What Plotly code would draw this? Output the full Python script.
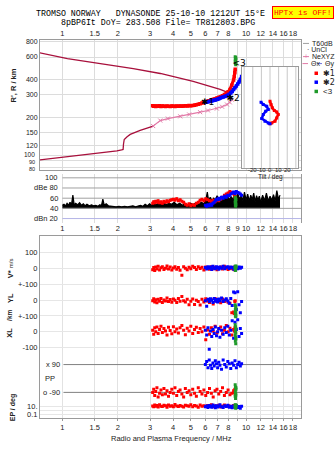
import numpy as np
import plotly.graph_objects as go

W, H = 335, 451
def px(x): return x / W
def py(y): return 1 - y / H

# ---------------- data ----------------
freq_ticks = [1, 1.5, 2, 3, 4, 5, 6, 7, 8, 9, 10, 12, 14, 16, 18]
freq_labels_edge = ['1', '1.5', '2', '3', '4', '5', '6', '7', '8', '', '10', '12', '14', '16', '18']
freq_labels_mid = ['1', '1.5', '2', '3', '4', '5', '6', '7', '8', '9', '10', '12', '14', '16', '18']
height_ticks = [80, 90, 100, 120, 150, 200, 300, 400, 600, 800]
height_labels = ['', '', '', '120', '150', '200', '300', '400', '600', '800']
tilt_ticks = [-30, -20, -10, 0, 10, 20, 30]
tilt_labels = ['', '-20', '-10', '0', '10', '20', '']
amp_ticks = [100, 80, 60, 40, 20]
amp_labels = ['100', 'dBe 80', '60', '40', 'dBn 20']

upper_f = [0.751, 1.065, 1.609, 2.43, 3.41, 5.15, 7.22, 8.19]
upper_h = [649, 582, 532, 486, 444, 384, 332, 309]
lower_f = [0.753, 1.0, 1.305, 1.6, 1.98, 2.10, 2.14, 2.15, 2.17, 2.25, 2.34, 2.65, 3.12]
lower_h = [91.6, 96, 100, 104, 108, 110, 111, 122, 133, 140, 146, 157, 170]
nexyz_f = [3.12, 3.41, 3.75, 4.38, 4.9, 5.62, 6.2, 6.93, 7.4, 7.87, 8.15, 8.37]
nexyz_h = [170, 188, 195, 203, 210, 219, 226, 234, 242, 252, 262, 275]

red_f = [3.10, 3.14, 3.18, 3.22, 3.27, 3.32, 3.38, 3.44, 3.50, 3.57, 3.64, 3.71, 3.78, 3.86,
         3.94, 4.02, 4.10, 4.19, 4.28, 4.37, 4.47, 4.57, 4.67, 4.78, 4.89, 5.00, 5.12, 5.24,
         5.36, 5.49, 5.62, 5.75, 5.89, 6.03, 6.17, 6.32, 6.47, 6.62, 6.78, 6.94, 7.10, 7.27,
         7.44, 7.62, 7.80, 7.98, 8.17, 8.36, 8.55, 8.62, 8.68, 8.72]
red_h = [246, 244, 245, 243, 245, 244, 246, 243, 245, 244, 243, 245, 244, 243, 245, 244, 243,
         245, 244, 245, 244, 245, 246, 245, 247, 246, 248, 249, 251, 253, 256, 259, 262, 265,
         268, 270, 273, 276, 279, 283, 287, 291, 296, 302, 309, 318, 332, 358, 395, 420, 450, 480]
red_amp = [50, 53, 51, 54, 52, 55, 51, 53, 50, 54, 52, 55, 53, 56, 57,
           58, 56, 59, 55, 57, 54, 52,
           48, 46, 49, 45, 47, 46, 50,
           52, 56, 58, 55, 59, 57, 55,
           54, 56, 53, 57, 55,
           58, 62, 66, 68, 70, 73, 71, 69, 67, 64, 62]
red_vstar = [-10, 5, -15, 8, -5, 12, -12, 3, 10, -8, 0, 15, -5, 8, -12, 2, 10, -6, 5, -14,
             -45, 9, 0, -10, 6, -3, 12, 4, -8, 10, -2, 6, -12, 8, 0, -6, 10, -4, 6, -10,
             3, 8, -5, 12, 0, -8, 5, -3, 6, -10, 4, -2]
red_yl = [-5, 8, -12, 2, -18, 5, -8, 10, -15, 0, -6, 12, -10, 3, -14, 6, -2, -16, 9, -8,
          22, -4, -12, 4, -30, -8, 6, -28, -2, -10, -32, 5, -12, 8, -6, -15, 2, -25, 10, -8,
          -3, -18, 6, -10, 0, -14, -20, -80, -75, -85, -10, -5]
red_xl = [10, -15, 25, 0, 30, -10, 15, 35, -5, 20, 5, -20, 28, 8, -12, 32, 0, 18, -8, 25,
          40, 10, -18, 22, 5, 35, -10, 15, 28, -5, 20, 0, 30, -50, 12, -15, 25, 5, 35, -8,
          18, 30, -12, 10, 40, 0, 22, -20, 15, 5, 25, 0]
red_pp = [-90, -70, -110, -85, -60, -120, -95, -75, -105, -65, -100, -80, -115, -90, -70,
          -95, -60, -110, -85, -75, -100, -120, -65, -90, -80, -105, -70, -95, -115, -60,
          -85, -100, -75, -110, -90, -65, -95, -120, -80, -70, -100, -85, -60, -110, -90,
          -75, -105, -95, -80, -90, -70, -100]
red_ep = [12, 8, 20, 10, 15, 7, 25, 11, 9, 18, 13, 6, 22, 10, 14, 8, 28, 12, 9, 16, 11, 7,
          19, 13, 10, 24, 8, 15, 12, 6, 20, 10, 14, 9, 17, 11, 26, 8, 13, 10, 18, 7, 12, 22,
          9, 15, 11, 6, 16, 10, 8, 12]

blue_f = [6.0, 6.1, 6.2, 6.3, 6.4, 6.5, 6.6, 6.7, 6.8, 6.9, 7.0, 7.1, 7.2, 7.35, 7.5, 7.65,
          7.8, 7.95, 8.1, 8.25, 8.4, 8.55, 8.7, 8.85, 9.0, 9.15, 9.3, 9.45]
blue_h = [263, 264, 265, 266, 268, 269, 271, 272, 274, 276, 278, 280, 283, 286, 289, 292,
          295, 299, 304, 311, 320, 332, 342, 353, 366, 380, 398, 420]
blue_amp = [46, 44, 47, 45, 48, 46, 50, 52, 55, 58, 57, 60, 58, 62, 60, 64, 62, 66, 65, 68,
            70, 72, 69, 73, 71, 70, 68, 66]
blue_vstar = [5, -5, 10, 0, 8, -8, 12, 2, -3, 10, 5, -6, 8, 0, 12, -4, 6, 10, -2, 8, 4, -6,
              10, 2, -4, 8, 0, 6]
blue_yl = [-5, -40, 5, -10, 8, -2, -15, 10, -8, 3, -12, 6, -4, 12, -10, 0, 8, -6, -20, 10,
           -35, 50, 45, -60, 52, -30, -80, -10]
blue_xl = [10, -20, 25, -110, 5, -30, 15, -10, 30, -25, 0, 20, -35, 10, -15, 25, -5, 35,
           -20, 10, 70, -40, 60, 15, 75, -30, 20, -10]
blue_pp = [90, 110, 70, 120, 85, 65, 100, 80, 115, 95, 70, 105, 85, 60, 120, 90, 75, 110,
           95, 65, 100, 85, 115, 70, 90, 105, 80, 95]
blue_ep = [8, 12, 5, 15, 9, 6, 20, 10, 4, 14, 7, 11, 25, 8, 5, 13, 9, 18, 6, 10, 4, 12, 8,
           16, 5, 9, 3, 11]

green_f = [8.72, 8.76, 8.80, 8.74, 8.78, 8.72, 8.76, 8.80, 8.74, 8.78]
green_h = [604, 595, 586, 577, 568, 559, 550, 541, 530, 520]
green_amp = [62, 60, 58, 56, 54, 52, 50, 48, 46, 44]
green_vstar = [12, -8, 15, -15, 5, 0, -12, 10, -5, 3]
green_yl = [-30, -40, -50, -60, -70, -78, -86, -94, -100, -106]
green_xl = [45, 32, 19, 6, -7, -20, -33, -46, -60, -75]
green_pp = [-40, -55, -70, -85, -100, -115, -130, -60, -95, -110]
green_ep = [25, 18, 14, 11, 8, 6, 4, 20, 9, 3]

tilt_red_deg = [0, 1.2, 2.7, 5.0, 7.8, 9.6, 7.8, 5.8, 2.0, 0]
tilt_red_h = [267, 252, 237, 226, 220, 210, 197, 186, 180, 177]
tilt_blue_deg = [-10.4, -7.8, -3.8, -2.0, -5.0, -7.8, -9.6, -5.8, -2.0, 0]
tilt_blue_h = [262, 252, 244, 230, 223, 210, 195, 186, 180, 177]

noise_f = [1.00, 1.02, 1.04, 1.06, 1.08, 1.10, 1.12, 1.14, 1.16, 1.18, 1.21, 1.24, 1.27, 1.30,
           1.33, 1.36, 1.40, 1.44, 1.48, 1.52, 1.56, 1.60, 1.63, 1.66, 1.69, 1.73, 1.78, 1.84,
           1.90, 1.96, 2.03, 2.10, 2.18, 2.26, 2.34, 2.42, 2.50, 2.58, 2.66, 2.74, 2.82, 2.90,
           2.98, 3.06, 3.15, 3.25, 3.35, 3.45, 3.56, 3.68, 3.80, 3.93, 4.06, 4.20, 4.35, 4.50,
           4.66, 4.82, 4.99, 5.16, 5.34, 5.52, 5.71, 5.90, 6.05, 6.15, 6.25, 6.38, 6.52, 6.66,
           6.80, 6.95, 7.10, 7.26, 7.42, 7.58, 7.75, 7.92, 8.10, 8.28, 8.46, 8.64, 8.82, 9.00,
           9.20, 9.40, 9.60, 9.80, 10.0, 10.2, 10.4, 10.6, 10.8, 11.0, 11.2, 11.4, 11.6, 11.8,
           12.0, 12.3, 12.6, 12.9, 13.2, 13.5, 13.8, 14.1, 14.4, 14.7, 15.0, 15.3]
noise_db = [46, 48, 45, 50, 46, 52, 47, 66, 46, 50, 47, 51, 46, 49, 45, 48, 45, 47, 45, 46,
            44, 47, 45, 58, 46, 49, 45, 44, 44, 43, 44, 43, 44, 43, 44, 45, 43, 44, 46, 44,
            48, 45, 49, 46, 50, 47, 51, 48, 52, 47, 50, 48, 52, 47, 50, 46, 49, 46, 50, 47,
            51, 48, 52, 49, 58, 72, 55, 62, 54, 60, 56, 65, 57, 62, 56, 63, 58, 64, 57, 63,
            58, 66, 60, 70, 58, 66, 55, 72, 56, 68, 54, 66, 57, 70, 53, 65, 56, 64, 52, 66,
            55, 70, 54, 64, 56, 67, 55, 75, 58, 66]
noise_floor = 41

RED, BLUE, GREEN = '#ff0000', '#0000ff', '#1f9a2a'
MAROON, PINK = '#a8103c', '#e27aa8'

# lower panel band mapping (stacked bands on one axis, units = -pixel rows)
def vstar_u(v): return -268 + 0.155 * np.asarray(v, float)
def yl_u(v): return -300 + 0.16 * np.asarray(v, float)
def xl_u(v): return -332 + 0.16 * np.asarray(v, float)
def pp_u(p): return -379 + np.asarray(p, float) * 14 / 90
def ep_u(e): return -411 + 4 * np.log10(np.asarray(e, float))

FMAX = 19.9
TILT_RANGE = [-32.5, 32.5]
INSET_HRANGE = [1.899, 2.702]
fig = go.Figure()

# ---------- main height panel ----------
fig.add_trace(go.Scatter(x=upper_f, y=upper_h, mode='lines', line=dict(color=MAROON, width=1.3),
                         xaxis='x', yaxis='y'))
fig.add_trace(go.Scatter(x=lower_f, y=lower_h, mode='lines', line=dict(color=MAROON, width=1.3),
                         xaxis='x', yaxis='y'))
fig.add_trace(go.Scatter(x=nexyz_f, y=nexyz_h, mode='lines+markers',
                         line=dict(color=PINK, width=1.2),
                         marker=dict(symbol='x-thin', size=4, line=dict(color=PINK, width=1)),
                         xaxis='x', yaxis='y'))
fig.add_trace(go.Scatter(x=red_f, y=red_h, mode='lines+markers', line=dict(color=RED, width=3),
                         marker=dict(symbol='square', size=3.5, color=RED), xaxis='x', yaxis='y'))
fig.add_trace(go.Scatter(x=blue_f, y=blue_h, mode='lines+markers', line=dict(color=BLUE, width=3),
                         marker=dict(symbol='square', size=3.5, color=BLUE), xaxis='x', yaxis='y'))
fig.add_trace(go.Scatter(x=green_f, y=green_h, mode='markers',
                         marker=dict(symbol='square', size=3, color=GREEN), xaxis='x', yaxis='y'))
fig.add_trace(go.Scatter(x=[6.17, 8.5, 9.15], y=[262, 282, 532], mode='text',
                         text=['✱1', '✱2', '<3'], textfont=dict(size=9, color='black',
                                                                 family='DejaVu Sans'),
                         xaxis='x', yaxis='y'))

# ---------- tilt inset (opaque white backing, own grid) ----------
hlo, hhi = 10 ** INSET_HRANGE[0], 10 ** INSET_HRANGE[1]
fig.add_trace(go.Scatter(x=[TILT_RANGE[0], TILT_RANGE[1], TILT_RANGE[1], TILT_RANGE[0]],
                         y=[hlo, hlo, hhi, hhi], mode='lines', fill='toself', fillcolor='white',
                         line=dict(width=0, color='white'), xaxis='x2', yaxis='y2'))
for t in tilt_ticks:
    fig.add_trace(go.Scatter(x=[t, t], y=[hlo, hhi], mode='lines',
                             line=dict(color='#c8c8c8', width=1), xaxis='x2', yaxis='y2'))
fig.add_trace(go.Scatter(x=tilt_red_deg, y=tilt_red_h, mode='lines+markers',
                         line=dict(color=RED, width=2.5), marker=dict(symbol='square', size=3, color=RED),
                         xaxis='x2', yaxis='y2'))
fig.add_trace(go.Scatter(x=tilt_blue_deg, y=tilt_blue_h, mode='lines+markers',
                         line=dict(color=BLUE, width=2.5), marker=dict(symbol='square', size=3, color=BLUE),
                         xaxis='x2', yaxis='y2'))

# ---------- amplitude panel ----------
for v in amp_ticks:
    col = '#b4b4e6' if v == 20 else '#a0a0a0'
    fig.add_trace(go.Scatter(x=[1, FMAX], y=[v, v], mode='lines', line=dict(color=col, width=1),
                             xaxis='x3', yaxis='y3'))
fig.add_trace(go.Scatter(x=noise_f, y=np.full(len(noise_f), noise_floor), mode='lines',
                         line=dict(color='black', width=0.5), xaxis='x3', yaxis='y3'))
fig.add_trace(go.Scatter(x=noise_f, y=noise_db, mode='lines', fill='tonexty', fillcolor='black',
                         line=dict(color='black', width=1.2), xaxis='x3', yaxis='y3'))
fig.add_trace(go.Scatter(x=red_f, y=red_amp, mode='lines+markers', line=dict(color=RED, width=2),
                         marker=dict(symbol='square', size=3, color=RED), xaxis='x3', yaxis='y3'))
fig.add_trace(go.Scatter(x=blue_f, y=blue_amp, mode='lines+markers', line=dict(color=BLUE, width=2),
                         marker=dict(symbol='square', size=3, color=BLUE), xaxis='x3', yaxis='y3'))
fig.add_trace(go.Scatter(x=green_f, y=green_amp, mode='markers',
                         marker=dict(symbol='square', size=3, color=GREEN), xaxis='x3', yaxis='y3'))

# ---------- lower parameter panel ----------
for yv in (pp_u(90), pp_u(-90)):
    fig.add_trace(go.Scatter(x=[1.013, FMAX], y=[yv, yv], mode='lines',
                             line=dict(color='#808080', width=1), xaxis='x4', yaxis='y4'))
for f, vs, yl, xl, pp, ep, col in [
        (red_f, red_vstar, red_yl, red_xl, red_pp, red_ep, RED),
        (blue_f, blue_vstar, blue_yl, blue_xl, blue_pp, blue_ep, BLUE),
        (green_f, green_vstar, green_yl, green_xl, green_pp, green_ep, GREEN)]:
    xs = list(f) * 5
    ys = np.concatenate([vstar_u(vs), yl_u(yl), xl_u(xl), pp_u(pp), ep_u(ep)])
    fig.add_trace(go.Scatter(x=xs, y=ys, mode='markers',
                             marker=dict(symbol='square', size=3, color=col),
                             xaxis='x4', yaxis='y4'))

# ---------- axes ----------
frange = [np.log10(0.755), np.log10(FMAX)]
xdom = [px(40), px(301)]
GRID = '#dcdcdc'
LINE = '#9a9a9a'
tf = dict(size=7.5, color='#222')
fig.update_layout(
    xaxis=dict(domain=xdom, type='log', range=frange, side='top', anchor='y',
               tickvals=freq_ticks, ticktext=freq_labels_edge, tickangle=0, showgrid=True,
               gridcolor=GRID, showline=True, linecolor=LINE, mirror=True, ticks='',
               zeroline=False, tickfont=tf),
    yaxis=dict(domain=[py(169), py(38)], type='log', range=[1.883, 2.915], anchor='x',
               tickvals=height_ticks, ticktext=height_labels, showgrid=True, gridcolor=GRID,
               showline=True, linecolor=LINE, mirror=True, ticks='', zeroline=False,
               tickfont=dict(size=7, color='#222')),
    xaxis2=dict(domain=[px(242), px(298)], range=TILT_RANGE, anchor='y2',
                showticklabels=False, showgrid=False, showline=True, linecolor=LINE,
                mirror=True, ticks='', zeroline=False),
    yaxis2=dict(domain=[py(167), py(65)], type='log', range=INSET_HRANGE, anchor='x2',
                showgrid=False, showticklabels=False, showline=True, linecolor=LINE,
                mirror=True, ticks='', zeroline=False),
    xaxis3=dict(domain=xdom, type='log', range=frange, anchor='y3', tickvals=freq_ticks,
                ticktext=freq_labels_mid, tickangle=0, showgrid=True, gridcolor=GRID,
                showline=False, ticks='', zeroline=False, tickfont=tf),
    yaxis3=dict(domain=[py(222), py(173)], range=[12.2, 107.8], anchor='x3', side='right',
                showgrid=False, showticklabels=False, showline=True, linecolor=LINE,
                ticks='', zeroline=False),
    xaxis4=dict(domain=xdom, type='log', range=frange, anchor='y4', tickvals=freq_ticks,
                ticktext=freq_labels_edge, tickangle=0, showgrid=True, gridcolor='#e2e2e2',
                showline=True, linecolor=LINE, mirror=True, ticks='outside', ticklen=2,
                tickcolor=LINE, zeroline=False, tickfont=tf),
    yaxis4=dict(domain=[py(419), py(236)], range=[-419, -236], anchor='x4',
                tickvals=[float(vstar_u(100)), float(vstar_u(0)), -284, float(yl_u(0)), -316,
                          float(xl_u(0)), float(xl_u(-100)), float(ep_u(10)), float(ep_u(1)),
                          float(ep_u(0.1))],
                ticktext=['100', '0', '+-100', '0', '+-100', '0', '-100', '10.', '', '0.1'],
                showgrid=True, gridcolor='#e6e6e6', showline=True, linecolor=LINE, mirror=True,
                ticks='', zeroline=False, tickfont=tf),
)

# ---------- annotations ----------
ann = []
def A(x, y, text, size=7.5, xanchor='center', color='#222', family='Liberation Sans',
      angle=0, yref='paper', xref='paper', **kw):
    d = dict(x=x, y=y, xref=xref, yref=yref, text=text, showarrow=False, xanchor=xanchor,
             yanchor='middle', textangle=angle, font=dict(size=size, color=color, family=family))
    d.update(kw)
    ann.append(d)

NB = '\u00a0'
A(px(150), py(12), 'TROMSO NORWAY' + NB * 3 + 'DYNASONDE 25-10-10 1212UT 15°E', size=8.3,
  family='Liberation Mono', color='black')
A(px(157.5), py(20.5), '8pBP6It DoY= 283.508 File= TR812803.BPG', size=8.3,
  family='Liberation Mono', color='black')
A(px(302.5), py(10.5), 'HPTx is OFF!', size=8, family='Liberation Mono', color='red',
  bgcolor='#ffff00', bordercolor='red', borderwidth=1, borderpad=1)
A(px(13), py(84), "<b>R', R / km</b>", size=7.5, angle=-90)
# the three lowest height labels sit close together, as in the original
A(px(37), py(153.6), '100', size=6.5, xanchor='right')
A(px(37), py(160.9), '90', size=5.5, xanchor='right')
A(px(37), py(167.7), '80', size=5.5, xanchor='right')
for v, t in zip(amp_ticks, amp_labels):
    A(px(60), v, t, xanchor='right', yref='y3')
for t, lab in zip(tilt_ticks, tilt_labels):
    if lab:
        A(t, py(169.5), lab, size=6, xref='x2')
A(px(270), py(176), 'Tilt / deg', size=6.5)
A(px(62), float(pp_u(90)), 'x 90', xanchor='right', yref='y4')
A(px(62), float(pp_u(-90)), 'o -90', xanchor='right', yref='y4')
A(px(42.5), py(379), 'PP', xanchor='left')
A(px(10), float(vstar_u(0)), "<b>V*</b> <span style='font-size:6px'>m/s</span>", angle=-90, yref='y4')
A(px(10), -298, '<b>YL</b>', angle=-90, yref='y4')
A(px(10), -316, '<b>/km</b>', size=6.5, angle=-90, yref='y4')
A(px(10), -333, '<b>XL</b>', angle=-90, yref='y4')
A(px(13), -408, '<b>EP / deg</b>', size=7, angle=-90, yref='y4')
A(px(171), py(439), 'Radio and Plasma Frequency / MHz', size=7.5)

# legend (right column)
LF = 7
A(px(310), py(41.7), 'T60dB', size=LF, xanchor='left')
A(px(305), py(48), '·' + NB + 'UnCl', size=LF, xanchor='left')
A(px(306), py(55), '+', size=LF, color=PINK, xanchor='center')
A(px(310), py(55), 'NeXYZ', size=LF, xanchor='left')
A(px(308.5), py(62), 'Θx', size=LF, xanchor='left')
A(px(322.5), py(62), 'Θy', size=LF, xanchor='left')
A(px(320.5), py(71.7), '✱1', size=8, xanchor='left', family='DejaVu Sans')
A(px(320.5), py(80.7), '✱2', size=8, xanchor='left', family='DejaVu Sans')
A(px(320.5), py(90), '<3', size=8, xanchor='left')

shapes = []
def seg(x0, x1, y, col):
    shapes.append(dict(type='line', xref='paper', yref='paper', x0=px(x0), x1=px(x1),
                       y0=py(y), y1=py(y), line=dict(color=col, width=1)))
def box(x0, y0, col):
    shapes.append(dict(type='rect', xref='paper', yref='paper', x0=px(x0), x1=px(x0 + 3.5),
                       y0=py(y0 + 3.5), y1=py(y0), fillcolor=col, line=dict(width=0)))
seg(303, 309, 41.7, '#a0a0a0')
seg(303, 309, 55, PINK)
seg(302.5, 308, 62, PINK)
seg(317, 322, 62, '#7070e0')
box(314.5, 70, RED)
box(314.5, 79, BLUE)
box(314.5, 88.3, GREEN)

fig.update_layout(width=W, height=H, margin=dict(l=0, r=0, t=0, b=0),
                  paper_bgcolor='white', plot_bgcolor='white', showlegend=False,
                  font=dict(family='Liberation Sans', size=7.5, color='#222'),
                  annotations=ann, shapes=shapes)

fig.write_html('out.html')
